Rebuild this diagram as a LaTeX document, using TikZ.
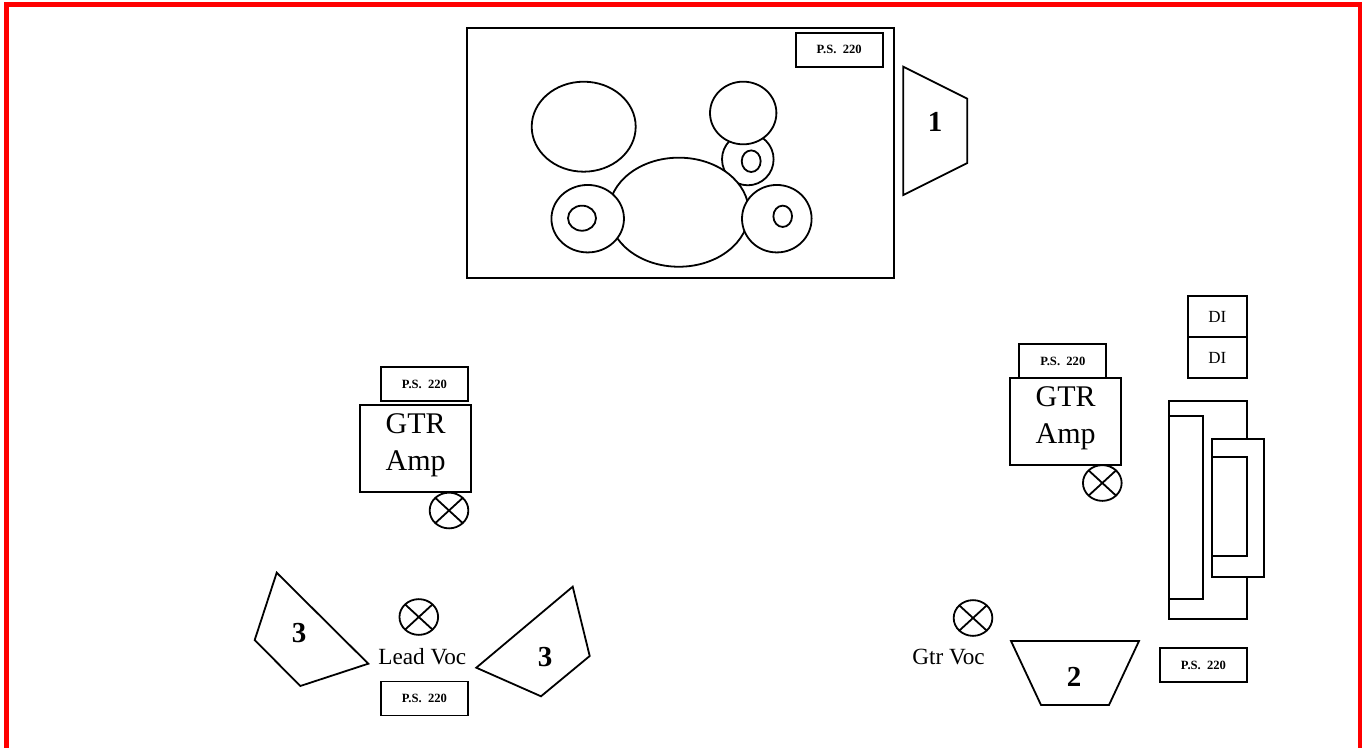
\documentclass[tikz,border=0pt]{standalone}
\usepackage{fontspec}
\setmainfont{Liberation Serif}
\newcommand{\fsz}[1]{\fontsize{#1}{#1}\selectfont}
\tikzset{
  solid white/.style={draw=black, fill=white},
  boxed/.style={draw=black, fill=white, inner sep=0pt, outer sep=0pt},
  psbox/.style={boxed, minimum width=65.25pt, minimum height=25.5pt, font=\fsz{9.45}\bfseries},
  ampbox/.style={boxed, minimum width=83.5pt, minimum height=65.25pt},
  ampline/.style={inner sep=0pt, font=\fsz{22.5}},
  dibox/.style={boxed, minimum width=44pt, minimum height=30.75pt, font=\fsz{12.75}},
  numlabel/.style={inner sep=0pt, font=\fsz{21.75}\bfseries},
  voclabel/.style={inner sep=0pt, font=\fsz{17.4}},
  lamp/.pic={
    \draw[solid white] (0,0) ellipse [x radius=14.5pt, y radius=13.4pt];
    \draw (-13.65,-12.55) -- (13.65,12.55);
    \draw (-13.65,12.55) -- (13.65,-12.55);
  }
}
\begin{document}
\begin{tikzpicture}[x=0.75pt, y=-0.75pt, line width=1.35pt]
\useasboundingbox (0,0) rectangle (1362,748);
\begin{scope}
\clip (0,0) rectangle (1362,748);
\draw[red, line width=3.75pt] (6.5,5) rectangle (1360.5,750);
\end{scope}

% drum riser
\draw[solid white] (467.3,28) rectangle (894.3,278);
\node[psbox] (psdrum) at (839.2,49.7) {P.S.\ \ 220};
\draw[solid white] (583.7,126.7) ellipse [x radius=39pt, y radius=33.75pt];
\draw[solid white] (747.8,159.3) ellipse [x radius=19.35pt, y radius=19.5pt];
\draw[solid white] (751.2,161.2) ellipse [x radius=7.1pt, y radius=8.1pt];
\draw[solid white] (743.2,113) ellipse [x radius=24.9pt, y radius=23.5pt];
\draw[solid white] (678.8,212.2) ellipse [x radius=52.5pt, y radius=40.9pt];
\draw[solid white] (587.7,218.7) ellipse [x radius=27.2pt, y radius=25.3pt];
\draw[solid white] (582,218.2) ellipse [x radius=10.5pt, y radius=9.4pt];
\draw[solid white] (776.8,218.7) ellipse [x radius=26.1pt, y radius=25.3pt];
\draw[solid white] (782.7,216.3) ellipse [x radius=7pt, y radius=8pt];

% monitor 1
\draw (903.3,66.7) -- (967.3,98.7) -- (967.3,163) -- (903.3,195) -- cycle;
\node[numlabel] (mon1) at (935,122) {1};

% left guitar amp
\node[psbox] (psleft) at (424.5,384) {P.S.\ \ 220};
\node[ampbox] (ampleft) at (415.7,448.5) {};
\node[ampline] (gtrleft) at (415.7,424) {GTR};
\node[ampline] (ampl) at (415.7,464) {Amp};
\pic at (449,510.5) {lamp};

% right guitar amp
\node[psbox] (psright) at (1062.8,361.2) {P.S.\ \ 220};
\node[ampbox] (ampright) at (1065.7,421.5) {};
\node[ampline] (gtrright) at (1065.7,396.7) {GTR};
\node[ampline] (ampr) at (1065.7,437) {Amp};
\pic at (1102.3,483) {lamp};

% DI boxes
\node[dibox] (di1) at (1217.3,316.5) {DI};
\node[dibox] (di2) at (1217.3,357.5) {DI};

% keyboards
\draw[solid white] (1169,400.7) rectangle (1246.7,619);
\draw[solid white] (1169,416) rectangle (1203.3,599.3);
\draw[solid white] (1212.3,439) rectangle (1263.7,576.7);
\draw[solid white] (1212.3,457.3) rectangle (1246.7,556.3);

% lead vocal
\pic at (418.8,617) {lamp};
\node[voclabel] (leadvoc) at (422.3,657) {Lead Voc};
\node[psbox] (pslead) at (424.4,698.5) {P.S.\ \ 220};
\draw (276.7,572.7) -- (368.3,663.7) -- (300.3,686) -- (254.7,640) -- cycle;
\node[numlabel] (mon3l) at (299,633.3) {3};
\draw (572.7,586.7) -- (589.7,656) -- (541,696.3) -- (476.3,667.7) -- cycle;
\node[numlabel] (mon3r) at (545,656.7) {3};

% guitar vocal
\pic at (973,618) {lamp};
\node[voclabel] (gtrvoc) at (948.5,657) {Gtr Voc};
\draw (1011,641) -- (1139,641) -- (1109,705) -- (1041,705) -- cycle;
\node[numlabel] (mon2) at (1074,677) {2};
\node[psbox] (psgv) at (1203.5,665) {P.S.\ \ 220};
\end{tikzpicture}
\end{document}
